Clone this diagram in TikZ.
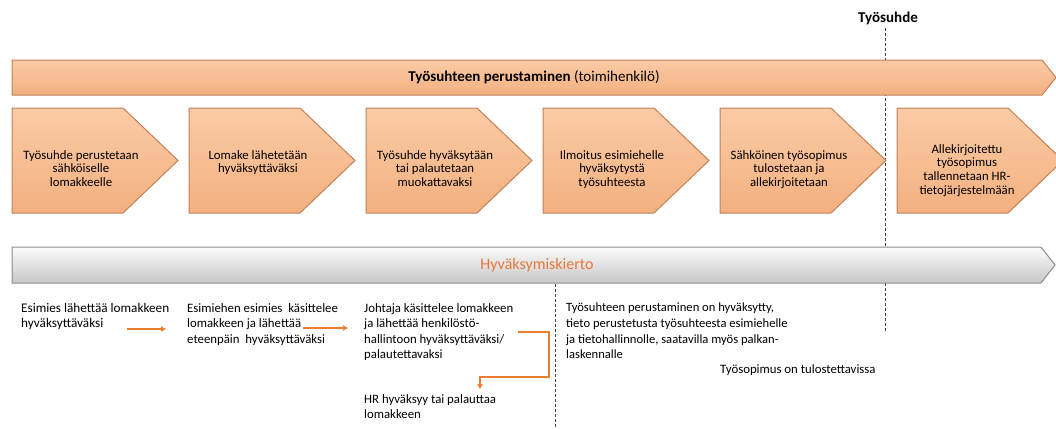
\documentclass[tikz,border=0pt]{standalone}
\usepackage{fontspec}
\setmainfont{Carlito}
\usetikzlibrary{arrows.meta}
\definecolor{peach}{HTML}{FAC095}
\definecolor{peachtop}{HTML}{FBCBA6}
\definecolor{peachbot}{HTML}{F3B07F}
\definecolor{peachedge}{HTML}{BF8258}
\definecolor{greyfill}{HTML}{DBDBDB}
\definecolor{greyedge}{HTML}{8C8C8C}
\definecolor{flow}{HTML}{ED7D31}
\definecolor{flowtext}{HTML}{E8793A}

\begin{document}
\begin{tikzpicture}[x=1pt, y=-1pt,
  chevbox/.style={draw=peachedge, line width=1pt, top color=peachtop, middle color=peach, bottom color=peachbot},
  barbox/.style={draw=greyedge, line width=1pt, top color=white!90!greyfill, middle color=greyfill, bottom color=black!22},
  chevtext/.style={anchor=north, inner sep=0pt, align=center, font=\fontsize{12.8}{13.8}\selectfont},
  note/.style={anchor=north west, inner sep=0pt, align=left, font=\fontsize{12.8}{15.6}\selectfont},
  flowarrow/.style={draw=flow, line width=1.2pt, -{Triangle[length=5pt, width=5pt]}},
  marker/.style={draw=black!75, line width=0.6pt, dash pattern=on 3pt off 2pt}]
  \useasboundingbox (0,0) rectangle (1056,428);

  % timeline markers
  \node[font=\fontsize{15}{17}\selectfont\bfseries] (ts) at (888,18) {Työsuhde};
  \coordinate (tsend) at (885,331);
  \draw[marker] (885,28) -- (tsend);

  % process bar
  \draw[chevbox] (12,60) -- (1042,60) -- (1056,77.5) -- (1042,95) -- (12,95) -- cycle;
  \node[font=\fontsize{15}{17}\selectfont] (main) at (534,77.5)
    {\textbf{Työsuhteen perustaminen} (toimihenkilö)};

  \foreach \x in {12,189,366,543,720,897}
    \draw[chevbox] (\x,108) -- ++(111,0) -- ++(55,52.5) -- ++(-55,52.5) -- ++(-111,0) -- cycle;

  \node[chevtext] (c1) at (81,150) {Työsuhde perustetaan\\sähköiselle\\lomakkeelle};
  \node[chevtext] (c2) at (258,150) {Lomake lähetetään\\hyväksyttäväksi};
  \node[chevtext] (c3) at (435,150) {Työsuhde hyväksytään\\tai palautetaan\\muokattavaksi};
  \node[chevtext] (c4) at (612,150) {Ilmoitus esimiehelle\\hyväksytystä\\työsuhteesta};
  \node[chevtext] (c5) at (789,150) {Sähköinen työsopimus\\tulostetaan ja\\allekirjoitetaan};
  \node[chevtext] (c6) at (967,144) {Allekirjoitettu\\työsopimus\\tallennetaan HR-\\tietojärjestelmään};

  % approval bar
  \draw[barbox] (12,247) -- (1041,247) -- (1055,265) -- (1041,283) -- (12,283) -- cycle;
  \node[font=\fontsize{16}{18}\selectfont, text=flowtext] (loop) at (537,265) {Hyväksymiskierto};
  \coordinate (okend) at (555,428);
  \draw[marker] (555,284) -- (okend);

  % approval round
  \node[note, font=\fontsize{13.2}{15.6}\selectfont] (e1) at (21,303) {Esimies lähettää lomakkeen\\hyväksyttäväksi};
  \node[note] (e2) at (187,303) {Esimiehen esimies\ \ käsittelee\\lomakkeen ja lähettää\\eteenpäin\ \ hyväksyttäväksi};
  \node[note] (e3) at (364,303) {Johtaja käsittelee lomakkeen\\ja lähettää henkilöstö-\\hallintoon hyväksyttäväksi/\\palautettavaksi};
  \node[note] (hr) at (364,394) {HR hyväksyy tai palauttaa\\lomakkeen};
  \node[note, font=\fontsize{12.6}{15.6}\selectfont] (ok) at (566,303) {Työsuhteen perustaminen on hyväksytty,\\tieto perustetusta työsuhteesta esimiehelle\\ja tietohallinnolle, saatavilla myös palkan-\\laskennalle};
  \node[note] (print) at (720,364) {Työsopimus on tulostettavissa};

  \coordinate (a1) at (127,329);
  \coordinate (a2) at (166,329);
  \coordinate (b1) at (303,328);
  \coordinate (b2) at (348,328);
  \coordinate (r1) at (518,332);
  \coordinate (r2) at (480,389);
  \draw[flowarrow] (a1) -- (a2);
  \draw[flowarrow] (b1) -- (b2);
  \draw[flowarrow] (r1) -- (549,332) -- (549,377) -- (480,377) -- (r2);
\end{tikzpicture}
\end{document}
